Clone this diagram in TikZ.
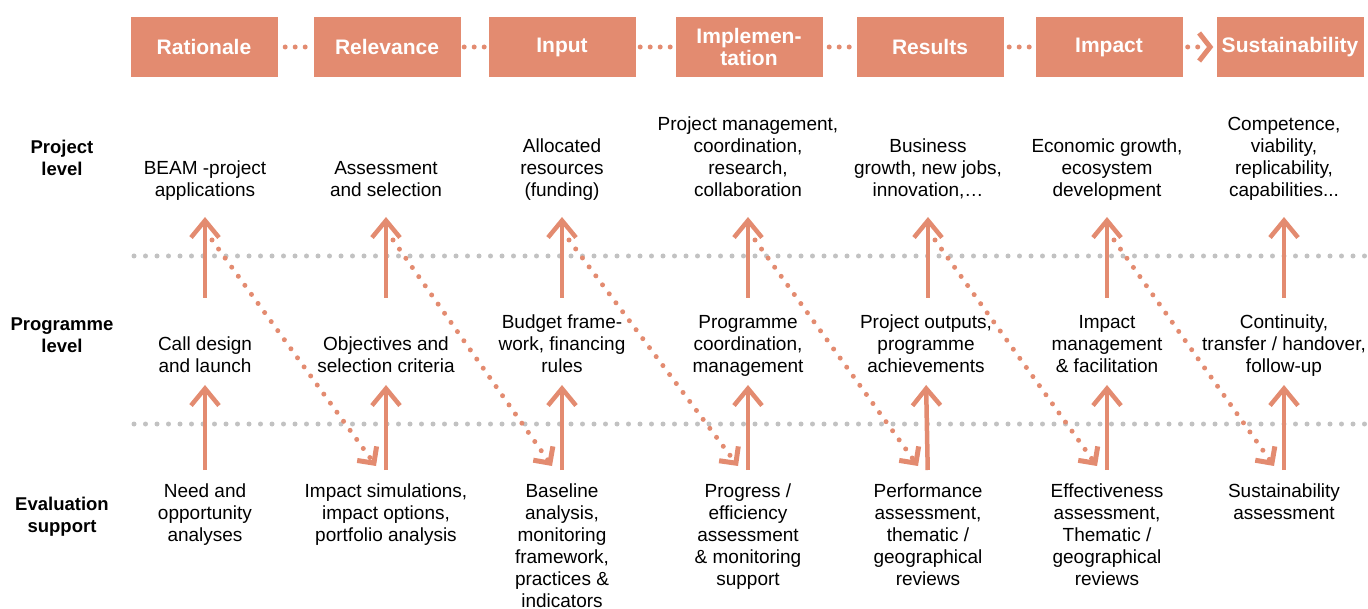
\documentclass[tikz,border=0pt]{standalone}
\usepackage{fontspec}
\setmainfont{Liberation Sans}
\usetikzlibrary{arrows.meta}
\definecolor{phasecolor}{RGB}{227,139,112}
\definecolor{levelgray}{RGB}{194,194,194}
\begin{document}
\begin{tikzpicture}[line cap=round,line join=round,x=1pt,y=-1pt,
  phase/.style={fill=phasecolor,text=white,font=\fontsize{21}{22}\selectfont\bfseries,minimum width=147pt,minimum height=60pt,inner sep=0pt,align=center},
  rowlabel/.style={font=\fontsize{18.5}{22}\selectfont\bfseries,align=center,inner sep=0pt,execute at begin node=\strut,execute at end node=\strut},
  item/.style={font=\fontsize{19}{22}\selectfont,align=center,inner sep=0pt,execute at begin node=\strut,execute at end node=\strut},
  link/.style={phasecolor,line width=5pt,dash pattern=on 0pt off 10pt},
  up/.style={phasecolor,line width=4.5pt,line cap=butt,-{Straight Barb[length=17pt,width=28pt]}},
  feed/.style={phasecolor,line width=5pt,dash pattern=on 0pt off 11.2pt,-{Straight Barb[length=12pt,width=24pt]}},
  level/.style={levelgray,line width=5pt,dash pattern=on 0pt off 11.5pt}]
\useasboundingbox (0,0) rectangle (1368,609);
\draw[level] (134,256) -- (1366,256);
\draw[level] (134,424) -- (1366,424);
\node[phase] (rat) at (204,47) {Rationale};
\node[phase] (rel) at (387,47) {Relevance};
\node[phase] (inp) at (562,47) {Input};
\node[phase] (imp) at (749,47) {Implemen-\\tation};
\node[phase] (res) at (930,47) {Results};
\node[phase] (ipc) at (1109,47) {Impact};
\node[phase] (sus) at (1290,47) {Sustainability};
\draw[link,shorten <=7.5pt,shorten >=7.5pt] (rat) -- (rel);
\draw[link,shorten <=3.5pt,shorten >=3.5pt] (rel) -- (inp);
\draw[link,shorten <=4.5pt,shorten >=4.5pt] (inp) -- (imp);
\draw[link,shorten <=6.5pt,shorten >=6.5pt] (imp) -- (res);
\draw[link,shorten <=5.5pt,shorten >=5.5pt] (res) -- (ipc);
\draw[link,shorten <=5pt,shorten >=3pt,-{Straight Barb[length=11pt,width=28pt]}] (ipc) -- (sus);
\node[rowlabel] (lpj) at (62,161) {Project\\level};
\node[rowlabel] (lpg) at (62,338) {Programme\\level};
\node[rowlabel] (lev) at (62,518) {Evaluation\\support};
\node[item,anchor=south] (pj1) at (205,203) {BEAM -project\\applications};
\node[item,anchor=south] (pj2) at (386,203) {Assessment\\and selection};
\node[item,anchor=south] (pj3) at (562,203) {Allocated\\resources\\(funding)};
\node[item,anchor=south] (pj4) at (748,203) {Project management,\\coordination,\\research,\\collaboration};
\node[item,anchor=south] (pj5) at (928,203) {Business\\growth, new jobs,\\innovation,…};
\node[item,anchor=south] (pj6) at (1107,203) {Economic growth,\\ecosystem\\development};
\node[item,anchor=south] (pj7) at (1284,203) {Competence,\\viability,\\replicability,\\capabilities...};
\node[item,anchor=south] (pg1) at (205,379) {Call design\\and launch};
\node[item,anchor=south] (pg2) at (386,379) {Objectives and\\selection criteria};
\node[item,anchor=south] (pg3) at (562,379) {Budget frame-\\work, financing\\rules};
\node[item,anchor=south] (pg4) at (748,379) {Programme\\coordination,\\management};
\node[item,anchor=south] (pg5) at (926,379) {Project outputs,\\programme\\achievements};
\node[item,anchor=south] (pg6) at (1107,379) {Impact\\management\\\& facilitation};
\node[item,anchor=south] (pg7) at (1284,379) {Continuity,\\transfer / handover,\\follow-up};
\node[item,anchor=north] (ev1) at (205,484) {Need and\\opportunity\\analyses};
\node[item,anchor=north] (ev2) at (386,484) {Impact simulations,\\impact options,\\portfolio analysis};
\node[item,anchor=north] (ev3) at (562,484) {Baseline\\analysis,\\monitoring\\framework,\\practices \&\\indicators};
\node[item,anchor=north] (ev4) at (748,484) {Progress /\\efficiency\\assessment\\\& monitoring\\support};
\node[item,anchor=north] (ev5) at (928,484) {Performance\\assessment,\\thematic /\\geographical\\reviews};
\node[item,anchor=north] (ev6) at (1107,484) {Effectiveness\\assessment,\\Thematic /\\geographical\\reviews};
\node[item,anchor=north] (ev7) at (1284,484) {Sustainability\\assessment};
\draw[up,shorten <=14pt,shorten >=6pt] (ev1.north) -- (pg1.south);
\draw[up,shorten <=14pt,shorten >=6pt] (ev2.north) -- (pg2.south);
\draw[up,shorten <=14pt,shorten >=6pt] (ev3.north) -- (pg3.south);
\draw[up,shorten <=14pt,shorten >=6pt] (ev4.north) -- (pg4.south);
\draw[up,shorten <=14pt,shorten >=6pt] (ev5.north) -- (pg5.south);
\draw[up,shorten <=14pt,shorten >=6pt] (ev6.north) -- (pg6.south);
\draw[up,shorten <=14pt,shorten >=6pt] (ev7.north) -- (pg7.south);
\draw[up,shorten >=14pt] ([yshift=81pt]pg1.south) -- (pj1.south);
\draw[up,shorten >=14pt] ([yshift=81pt]pg2.south) -- (pj2.south);
\draw[up,shorten >=14pt] ([yshift=81pt]pg3.south) -- (pj3.south);
\draw[up,shorten >=14pt] ([yshift=81pt]pg4.south) -- (pj4.south);
\draw[up,shorten >=14pt] ([yshift=81pt]pg5.south-|pj5.south) -- (pj5.south);
\draw[up,shorten >=14pt] ([yshift=81pt]pg6.south) -- (pj6.south);
\draw[up,shorten >=14pt] ([yshift=81pt]pg7.south) -- (pj7.south);
\draw[feed] ([xshift=7pt,yshift=-37pt]pj1.south) -- ([xshift=-10pt,yshift=18pt]ev2.north);
\draw[feed] ([xshift=7pt,yshift=-37pt]pj2.south) -- ([xshift=-10pt,yshift=18pt]ev3.north);
\draw[feed] ([xshift=7pt,yshift=-37pt]pj3.south) -- ([xshift=-10pt,yshift=18pt]ev4.north);
\draw[feed] ([xshift=7pt,yshift=-37pt]pj4.south) -- ([xshift=-10pt,yshift=18pt]ev5.north);
\draw[feed] ([xshift=7pt,yshift=-37pt]pj5.south) -- ([xshift=-10pt,yshift=18pt]ev6.north);
\draw[feed] ([xshift=7pt,yshift=-37pt]pj6.south) -- ([xshift=-10pt,yshift=18pt]ev7.north);
\end{tikzpicture}
\end{document}
